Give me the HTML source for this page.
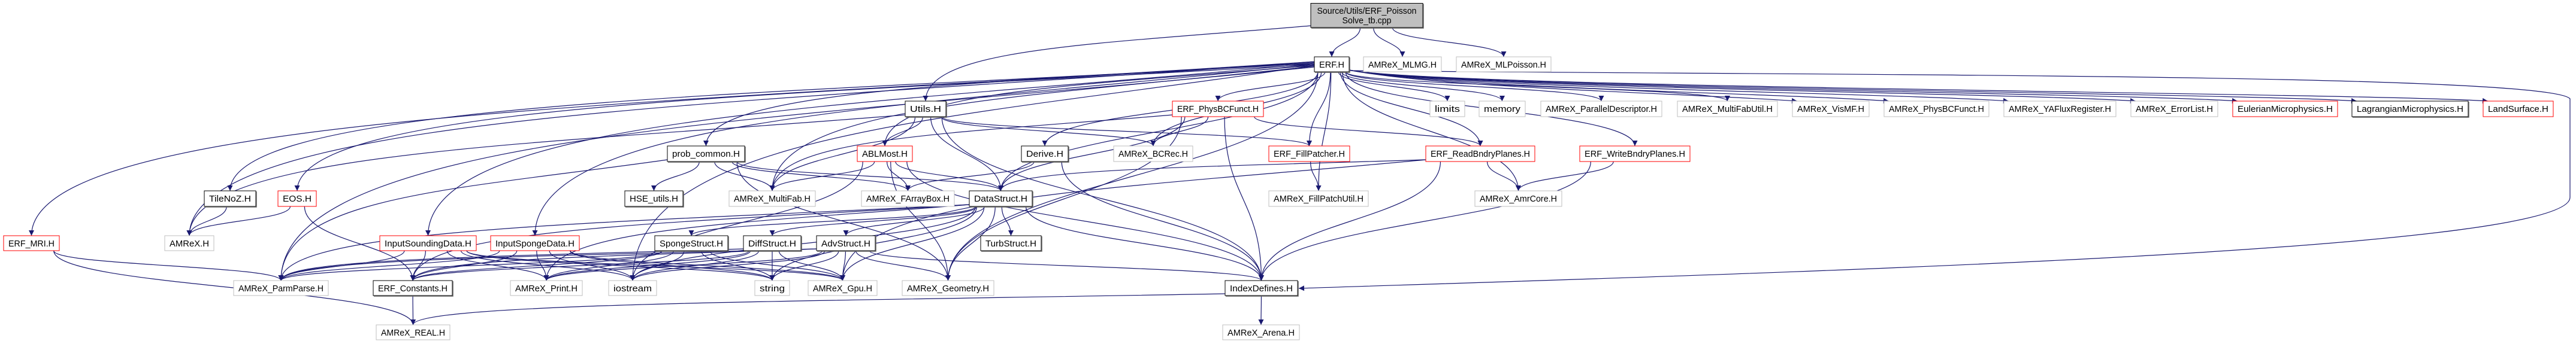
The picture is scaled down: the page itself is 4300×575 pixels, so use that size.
<!DOCTYPE html>
<html><head><meta charset="utf-8"><style>
html,body{margin:0;padding:0;background:#fff;width:4300px;height:575px;overflow:hidden}
svg{display:block}
text{font-family:"Liberation Sans",sans-serif;font-size:15px;fill:#000}
</style></head><body>
<svg id="g" xmlns="http://www.w3.org/2000/svg" width="4300" height="575" viewBox="0 0 4300 575">
<defs><marker id="a" viewBox="0 0 10 10" refX="10" refY="5" markerWidth="10" markerHeight="9" markerUnits="userSpaceOnUse" orient="auto"><path d="M0,0L10,5L0,10z" fill="#191970"/></marker></defs>
<g id="edges" fill="none" stroke="#191970" stroke-width="1.2">
<path d="M2252,118 C3000,126 4250,122 4290,165 L4290,330 C4290,420 3000,455 2168,482" marker-end="url(#a)"/>
</g>
<g id="nodes"></g>
</svg>
<script>
var R=[[5.5,46],[95,120],[169,195],[244,270],[319,345],[394,419],[469,494],[543,568]];
var N={
src:["",2188,2375,0,"s"],
ERF:["ERF.H",2194,2252,1,"k"],MLMG:["AMReX_MLMG.H",2276,2406,1,"g"],MLP:["AMReX_MLPoisson.H",2431,2589,1,"g"],
Utils:["Utils.H",1511,1579,2,"k"],PBC:["ERF_PhysBCFunct.H",1957,2109,2,"r"],limits:["limits",2387,2445,2,"g"],memory:["memory",2469,2546,2,"g"],
PD:["AMReX_ParallelDescriptor.H",2572,2774,2,"g"],MFU:["AMReX_MultiFabUtil.H",2800,2967,2,"g"],Vis:["AMReX_VisMF.H",2992,3120,2,"g"],
APBC:["AMReX_PhysBCFunct.H",3145,3320,2,"g"],YA:["AMReX_YAFluxRegister.H",3345,3532,2,"g"],EL:["AMReX_ErrorList.H",3557,3702,2,"g"],
Eul:["EulerianMicrophysics.H",3727,3902,2,"r"],Lag:["LagrangianMicrophysics.H",3926,4120,2,"k"],Land:["LandSurface.H",4145,4262,2,"r"],
prob:["prob_common.H",1114,1243,3,"k"],ABL:["ABLMost.H",1431,1523,3,"r"],Der:["Derive.H",1705,1783,3,"k"],BC:["AMReX_BCRec.H",1859,1991,3,"g"],
FP:["ERF_FillPatcher.H",2118,2253,3,"r"],RB:["ERF_ReadBndryPlanes.H",2380,2562,3,"r"],WB:["ERF_WriteBndryPlanes.H",2637,2821,3,"r"],
Tile:["TileNoZ.H",341,427,4,"k"],EOS:["EOS.H",464,528,4,"r"],HSE:["HSE_utils.H",1043,1140,4,"k"],MF:["AMReX_MultiFab.H",1217,1361,4,"g"],
FAB:["AMReX_FArrayBox.H",1438,1593,4,"g"],DS:["DataStruct.H",1618,1723,4,"k"],FPU:["AMReX_FillPatchUtil.H",2118,2284,4,"g"],AC:["AMReX_AmrCore.H",2462,2607,4,"g"],
MRI:["ERF_MRI.H",6,99,5,"r"],AMX:["AMReX.H",275,357,5,"g"],ISD:["InputSoundingData.H",634,795,5,"r"],ISP:["InputSpongeData.H",819,967,5,"r"],
SS:["SpongeStruct.H",1093,1215,5,"k"],DF:["DiffStruct.H",1241,1337,5,"k"],AD:["AdvStruct.H",1363,1461,5,"k"],TS:["TurbStruct.H",1637,1738,5,"k"],
PP:["AMReX_ParmParse.H",390,548,6,"g"],EC:["ERF_Constants.H",623,755,6,"k"],PR:["AMReX_Print.H",852,972,6,"g"],IO:["iostream",1016,1096,6,"g"],
ST:["string",1260,1318,6,"g"],GPU:["AMReX_Gpu.H",1349,1464,6,"g"],GEO:["AMReX_Geometry.H",1506,1659,6,"g"],IDX:["IndexDefines.H",2045,2166,6,"k"],
REAL:["AMReX_REAL.H",628,751,7,"g"],AR:["AMReX_Arena.H",2041,2169,7,"g"]};
var E={src:"ERF MLMG MLP Utils",
ERF:"MRI prob ISD ISP ABL DS Der BC PBC FP FPU RB WB AC limits memory PD MFU Vis APBC YA EL Eul Lag Land IO MF PP AMX GEO Tile EOS",
Utils:"ABL MF DS BC FP IDX AMX",PBC:"BC DS IDX GEO MF RB",
prob:"HSE MF FAB DS PP GEO",ABL:"MF FAB DS IDX GEO IO",Der:"FAB IDX",FP:"FPU",RB:"DS AC IDX GPU",WB:"AC IDX",
Tile:"AMX",EOS:"AMX EC",DS:"SS DF AD TS PP EC PR IO ST GPU GEO IDX",MRI:"PP REAL",
ISD:"PP EC PR IO ST GPU",ISP:"PP EC PR IO ST GPU",SS:"PP EC PR IO ST GPU",DF:"PP EC PR IO ST GPU",AD:"PP EC PR IO ST GPU GEO IDX",
EC:"REAL",IDX:"AR REAL"};
var ns="http://www.w3.org/2000/svg",eg=document.getElementById("edges"),ng=document.getElementById("nodes");
function el(t,a,p){var e=document.createElementNS(ns,t);for(var k in a)e.setAttribute(k,a[k]);p.appendChild(e);return e;}
for(var s in E){var S=N[s];var list=E[s].split(" ");list.forEach(function(t,i){var T=N[t];
var tx=(T[1]+T[2])/2,ty=R[T[3]][0];var scx=(S[1]+S[2])/2;var dx=tx-scx;
var sy0=R[S[3]][0],sy1=R[S[3]][1];var d;
if(Math.abs(dx)>700&&dx>0){var sx=S[2],sy=sy1-3;var ex=T[1]+8;
d="M"+sx+","+sy+" C"+(sx+150)+","+(ty-22)+" "+(ex-200)+","+(ty-14)+" "+ex+","+ty;}
else if(Math.abs(dx)>700){var sx=S[1];var sy=(S[3]==1)?(sy0+sy1)/2+((i%7)-3)*1.5:sy1-3;
d="M"+sx+","+sy+" C"+(sx-Math.abs(dx)*0.5)+","+(sy+(ty-sy)*0.25)+" "+tx+","+(sy+(ty-sy)*0.3)+" "+tx+","+ty;}
else{var off=Math.max(-1,Math.min(1,dx/400))*(S[2]-S[1])*0.4;var sx=scx+off,sy=sy1;var dy=ty-sy;
d="M"+sx+","+sy+" C"+sx+","+(sy+dy*0.5)+" "+tx+","+(ty-dy*0.5)+" "+tx+","+ty;}
el("path",{d:d,"marker-end":"url(#a)"},eg);});}
for(var k in N){var n=N[k],y0=R[n[3]][0],y1=R[n[3]][1];
var st=n[4]=="r"?"#ff0000":n[4]=="g"?"#bfbfbf":"#000";
el("rect",{x:n[1],y:y0,width:n[2]-n[1],height:y1-y0,fill:n[4]=="s"?"#bfbfbf":"#fff",stroke:st,"stroke-width":1},ng);
if(n[4]=="k"||n[4]=="s")el("path",{d:"M"+(n[1]+1)+","+(y1+1)+"H"+(n[2]+1)+"V"+(y0+1),fill:"none",stroke:"#666","stroke-width":1.5},ng);
if(k=="src"){var t1=el("text",{x:(n[1]+n[2])/2,y:23,"text-anchor":"middle",textLength:166,lengthAdjust:"spacingAndGlyphs"},ng);t1.textContent="Source/Utils/ERF_Poisson";
var t2=el("text",{x:(n[1]+n[2])/2,y:39,"text-anchor":"middle",textLength:82,lengthAdjust:"spacingAndGlyphs"},ng);t2.textContent="Solve_tb.cpp";}
else{var t=el("text",{x:(n[1]+n[2])/2,y:y0+18,"text-anchor":"middle",textLength:(n[2]-n[1]-16),lengthAdjust:"spacingAndGlyphs"},ng);t.textContent=n[0];}}
</script>
</body></html>
